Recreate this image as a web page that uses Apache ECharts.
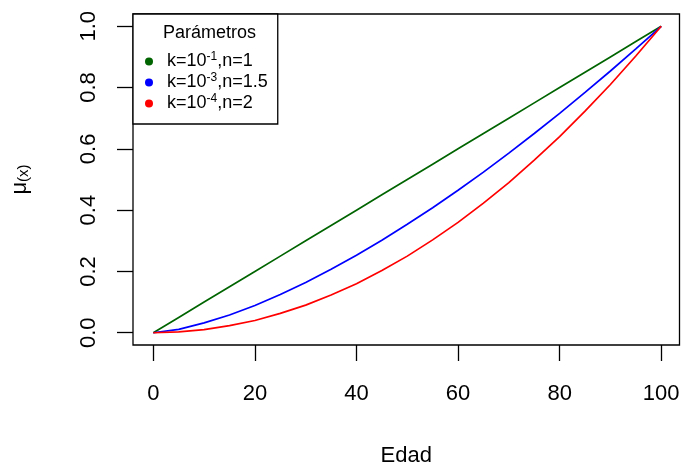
<!DOCTYPE html>
<html>
<head>
<meta charset="utf-8">
<script src="https://cdn.jsdelivr.net/npm/echarts@6/dist/echarts.min.js"></script>
<style>
  html, body { margin: 0; padding: 0; background: #fff; }
  #chart { width: 681px; height: 464px; }
</style>
</head>
<body>
<div id="chart"></div>
<script>
// edades (eje x)
const edad = [0, 5, 10, 15, 20, 25, 30, 35, 40, 45, 50, 55, 60, 65, 70, 75, 80, 85, 90, 95, 100];

// valores
const muVerde = [0, 0.05, 0.10, 0.15, 0.20, 0.25, 0.30, 0.35, 0.40, 0.45, 0.50,
                 0.55, 0.60, 0.65, 0.70, 0.75, 0.80, 0.85, 0.90, 0.95, 1.00];
const muAzul  = [0, 0.011, 0.032, 0.058, 0.089, 0.125, 0.164, 0.207, 0.253, 0.302, 0.354,
                 0.408, 0.465, 0.524, 0.586, 0.650, 0.716, 0.784, 0.854, 0.926, 1.00];
const muRojo  = [0, 0.003, 0.010, 0.023, 0.040, 0.063, 0.090, 0.123, 0.160, 0.203, 0.250,
                 0.303, 0.360, 0.423, 0.490, 0.563, 0.640, 0.723, 0.810, 0.903, 1.00];

const xTicks = [0, 20, 40, 60, 80, 100];
const yTicks = [0, 0.2, 0.4, 0.6, 0.8, 1.0];

const seriesNames = ['k=10^-1,n=1', 'k=10^-3,n=1.5', 'k=10^-4,n=2'];
const kExp = ['-1', '-3', '-4'];
const nVal = ['1', '1.5', '2'];
const colors = ['#006400', '#0000ff', '#ff0000'];

const font = '"Liberation Sans", Arial, sans-serif';

const toPairs = vals => edad.map((a, i) => [a, vals[i]]);

const chart = echarts.init(document.getElementById('chart'));

const option = {
    animation: false,
    backgroundColor: '#fff',
    textStyle: { fontFamily: font, color: '#000' },
    title: {
        text: 'Parámetros',
        left: 158,
        top: 19,
        textStyle: { fontFamily: font, fontSize: 18, fontWeight: 'normal', color: '#000' }
    },
    legend: {
        orient: 'vertical',
        left: 133,
        top: 14,
        padding: [37, 10, 10, 12],
        itemGap: 0,
        itemWidth: 8,
        itemHeight: 8,
        borderColor: '#000',
        borderWidth: 1.3,
        backgroundColor: '#fff',
        data: seriesNames.map(n => ({ name: n, icon: 'circle' })),
        formatter: name => {
            const i = seriesNames.indexOf(name);
            return '{gap|}{b|k=10}{sup|' + kExp[i] + '}{b|,n=' + nVal[i] + '}';
        },
        textStyle: {
            fontFamily: font,
            fontSize: 18,
            color: '#000',
            rich: {
                gap: { width: 9 },
                b: { fontFamily: font, fontSize: 18, lineHeight: 21, color: '#000' },
                sup: { fontFamily: font, fontSize: 12, lineHeight: 12, padding: [0, 0, 9, 0], color: '#000' }
            }
        }
    },
    grid: {
        left: 133, right: 1.5, top: 14, bottom: 119, show: true,
        outerBoundsMode: 'none',
        containLabel: false,
        borderColor: '#000', borderWidth: 1.3, backgroundColor: 'transparent'
    },
    xAxis: {
        type: 'value',
        min: -4,
        max: 103.6,
        axisLine: { show: false, onZero: false },
        axisTick: { show: true, length: 16, customValues: xTicks, lineStyle: { color: '#000', width: 1.3 } },
        splitLine: { show: false },
        axisLabel: { customValues: xTicks, margin: 38, fontSize: 22, fontFamily: font, color: '#000' },
        name: 'Edad',
        nameLocation: 'middle',
        nameGap: 100,
        nameTextStyle: { fontSize: 22, fontFamily: font, color: '#000' }
    },
    yAxis: {
        type: 'value',
        min: -0.04,
        max: 1.04,
        axisLine: { show: false, onZero: false },
        axisTick: { show: true, length: 16, customValues: yTicks, lineStyle: { color: '#000', width: 1.3 } },
        splitLine: { show: false },
        axisLabel: {
            customValues: yTicks,
            rotate: 90,
            margin: 33,
            fontSize: 22,
            fontFamily: font,
            color: '#000',
            formatter: v => v.toFixed(1)
        },
        name: '{mu|μ}{sub|(x)}',
        nameLocation: 'middle',
        nameRotate: 90,
        nameGap: 102,
        nameTextStyle: {
            rich: {
                mu: { fontFamily: font, fontSize: 22, lineHeight: 22, color: '#000' },
                sub: { fontFamily: font, fontSize: 15, lineHeight: 15, padding: [8, 0, 0, 0], color: '#000' }
            }
        }
    },
    series: [muVerde, muAzul, muRojo].map((vals, i) => ({
        name: seriesNames[i],
        type: 'line',
        data: toPairs(vals),
        showSymbol: false,
        symbol: 'circle',
        color: colors[i],
        lineStyle: { color: colors[i], width: 1.7 },
        itemStyle: { color: colors[i] },
        z: 3
    }))
};

chart.setOption(option);
</script>
</body>
</html>
